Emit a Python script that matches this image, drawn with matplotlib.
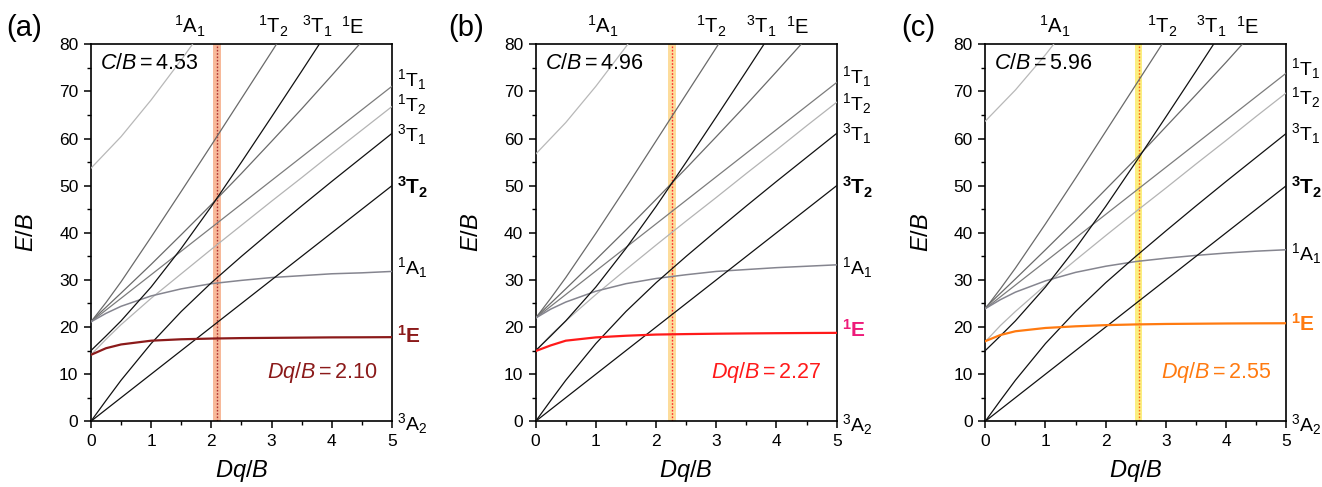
import matplotlib
matplotlib.use("Agg")
import matplotlib.pyplot as plt
from matplotlib.ticker import MultipleLocator

plt.rcParams['font.family'] = ['Liberation Sans', 'DejaVu Sans']
plt.rcParams['mathtext.fontset'] = 'custom'
plt.rcParams['mathtext.rm'] = 'Liberation Sans'
plt.rcParams['mathtext.it'] = 'Liberation Sans:italic'
plt.rcParams['mathtext.bf'] = 'Liberation Sans:bold'

# sampling positions (Dq/B) used when reading the curves
X_FINE = [0, 0.25, 0.5, 1, 1.5, 2, 2.5, 3, 3.5, 4, 4.5, 5]
X_HALF = [0, 0.5, 1, 1.5, 2, 2.5, 3, 3.5, 4, 4.5]
X_STEEP = [0, 0.25, 0.5, 1, 1.5, 2, 2.5, 3, 3.5]
X_S = [0, 0.5, 1, 1.5, 2]
X_ENDS = [0, 5]

# triplets, same in all three panels
T2_3 = [0, 50]
T1F_3 = [0, 4.4, 8.7, 16.5, 23.3, 29.4, 35.0, 40.4, 45.7, 50.9, 56.0, 61.1]
T1P_3 = [15.0, 18.1, 21.3, 28.5, 36.7, 45.6, 55.0, 64.6, 74.3, 84.1, 94.0, 103.9]

# panel (a)  C/B = 4.53
E1_A = [14.1, 15.5, 16.3, 17.1, 17.4, 17.55, 17.65, 17.7, 17.75, 17.8, 17.82, 17.85]
A1_A = [21.1, 22.9, 24.4, 26.6, 28.1, 29.2, 29.9, 30.5, 30.9, 31.3, 31.5, 31.8]
T2D_A = [14.1, 17.4, 20.5, 26.1, 31.3, 36.5, 41.6, 46.7, 51.7, 56.8, 61.8, 66.8]
T2G_A = [21.1, 25.2, 29.6, 39.1, 48.8, 58.6, 68.5, 78.4, 88.4]
T1_A = [21.1, 71.1]
S_A = [53.7, 60.4, 68.2, 76.7, 85.6]
EG_A = [21.2, 27.2, 33.3, 39.6, 46.0, 52.6, 59.4, 66.3, 73.4, 80.6]

# panel (b)  C/B = 4.96
E1_B = [14.9, 16.1, 17.1, 17.8, 18.15, 18.4, 18.5, 18.58, 18.64, 18.69, 18.73, 18.76]
A1_B = [21.9, 23.8, 25.3, 27.6, 29.2, 30.3, 31.1, 31.8, 32.2, 32.6, 32.9, 33.2]
T2D_B = [14.9, 18.3, 21.3, 26.9, 32.2, 37.4, 42.5, 47.5, 52.6, 57.6, 62.7, 67.7]
T2G_B = [21.9, 26.1, 30.5, 39.9, 49.6, 59.5, 69.4, 79.3, 89.3]
T1_B = [21.9, 71.9]
S_B = [56.7, 63.4, 71.1, 79.5, 88.3]
EG_B = [22.0, 28.1, 34.3, 40.6, 47.1, 53.7, 60.4, 67.2, 74.2, 81.3]

# panel (c)  C/B = 5.96
E1_C = [17.0, 18.3, 19.1, 19.8, 20.15, 20.4, 20.55, 20.65, 20.7, 20.75, 20.78, 20.8]
A1_C = [23.9, 25.8, 27.4, 29.8, 31.6, 32.9, 33.9, 34.6, 35.2, 35.7, 36.1, 36.4]
T2D_C = [16.9, 20.3, 23.3, 28.9, 34.2, 39.4, 44.5, 49.5, 54.6, 59.6, 64.7, 69.7]
T2G_C = [23.9, 28.1, 32.5, 41.9, 51.6, 61.5, 71.4, 81.3, 91.2]
T1_C = [23.9, 73.9]
S_C = [63.7, 70.3, 77.8, 86.0, 94.5]
EG_C = [24.1, 30.2, 36.4, 42.7, 49.2, 55.7, 62.5, 69.3, 76.2, 83.3]

CB_VALUES = ["4.53", "4.96", "5.96"]
DQ_VALUES = [2.10, 2.27, 2.55]
DQ_LABELS = ["2.10", "2.27", "2.55"]
PANEL_TAGS = ["(a)", "(b)", "(c)"]

TOP_LABELS = [r"$^{1}$A$_{1}$", r"$^{1}$T$_{2}$", r"$^{3}$T$_{1}$", r"$^{1}$E"]
TOP_X = [[1.645, 3.03, 3.75, 4.35], [1.12, 2.92, 3.75, 4.35], [1.16, 2.93, 3.76, 4.36]]
RIGHT_LABELS = [r"$^{1}$T$_{1}$", r"$^{1}$T$_{2}$", r"$^{3}$T$_{1}$",
                r"$\mathbf{^{3}T_{2}}$", r"$^{1}$A$_{1}$", r"$\mathbf{^{1}E}$",
                r"$^{3}$A$_{2}$"]
RIGHT_Y = [[72.6, 67.3, 60.9, 49.6, 32.7, 18.1, -0.5],
           [73.1, 67.4, 61.0, 49.7, 32.7, 19.3, -0.8],
           [74.8, 68.8, 61.0, 49.7, 35.5, 20.7, -0.6]]

panels = [
    dict(e1=E1_A, a1=A1_A, t2d=T2D_A, t2g=T2G_A, t1=T1_A, s=S_A, eg=EG_A,
         line="#8b1a1a", label="#8b1a1a", text="#8b1a1a",
         band="#f6ad88", dots="#b03030", pos=[0.0688, 0.135, 0.2277, 0.774]),
    dict(e1=E1_B, a1=A1_B, t2d=T2D_B, t2g=T2G_B, t1=T1_B, s=S_B, eg=EG_B,
         line="#ff1a1a", label="#ee1b7a", text="#ff1a1a",
         band="#fdd68a", dots="#ff2a2a", pos=[0.4052, 0.135, 0.2277, 0.774]),
    dict(e1=E1_C, a1=A1_C, t2d=T2D_C, t2g=T2G_C, t1=T1_C, s=S_C, eg=EG_C,
         line="#ff7a10", label="#ff7a10", text="#ff7a10",
         band="#fbeb6a", dots="#ff6a10", pos=[0.7453, 0.135, 0.2277, 0.774]),
]

fig = plt.figure(figsize=(13.22, 4.87), dpi=100)

for i, p in enumerate(panels):
    ax = fig.add_axes(p["pos"])
    dq = DQ_VALUES[i]

    ax.axvspan(dq - 0.065, dq + 0.06, color=p["band"], alpha=0.85, lw=0, zorder=1)
    ax.axvline(dq, color=p["dots"], lw=1.0, ls=(0, (1.2, 1.2)), zorder=2)

    ax.plot(X_S, p["s"], color="#b8b8b8", lw=0.9, zorder=3)
    ax.plot(X_STEEP, p["t2g"], color="#6a6a6a", lw=0.9, zorder=3)
    ax.plot(X_HALF, p["eg"], color="#6a6a6a", lw=0.9, zorder=3)
    ax.plot(X_ENDS, p["t1"], color="#7c7c7c", lw=0.9, zorder=3)
    ax.plot(X_FINE, p["t2d"], color="#b4b4b4", lw=0.9, zorder=3)
    ax.plot(X_FINE, p["a1"], color="#85858f", lw=1.1, zorder=3)
    ax.plot(X_ENDS, T2_3, color="#111111", lw=0.9, zorder=4)
    ax.plot(X_FINE, T1F_3, color="#111111", lw=0.9, zorder=4)
    ax.plot(X_FINE, T1P_3, color="#111111", lw=0.9, zorder=4)
    ax.plot(X_FINE, p["e1"], color=p["line"], lw=1.6, zorder=5)

    ax.set_xlim(0, 5)
    ax.set_ylim(0, 80)
    ax.xaxis.set_major_locator(MultipleLocator(1))
    ax.xaxis.set_minor_locator(MultipleLocator(0.5))
    ax.yaxis.set_major_locator(MultipleLocator(10))
    ax.yaxis.set_minor_locator(MultipleLocator(5))
    ax.tick_params(which="major", direction="out", length=5, width=1.1,
                   labelsize=12.5, pad=4)
    ax.tick_params(which="minor", direction="out", length=3, width=1.0)
    for sp in ax.spines.values():
        sp.set_linewidth(1.2)

    ax.set_xlabel(r"$\mathit{Dq/B}$", fontsize=17, labelpad=7)
    ax.set_ylabel(r"$\mathit{E/B}$", fontsize=17, labelpad=15)

    ax.text(0.15, 76, r"$\mathit{C/B}=\mathrm{%s}$" % CB_VALUES[i],
            fontsize=15.5, va="center", ha="left")
    ax.text(2.92, 10.3, r"$\mathit{Dq/B}=\mathrm{%s}$" % DQ_LABELS[i],
            fontsize=15.5, va="center", ha="left", color=p["text"])

    for lab, x in zip(TOP_LABELS, TOP_X[i]):
        ax.text(x, 83.8, lab, fontsize=14.5, ha="center", va="center",
                clip_on=False)
    for k, (lab, y) in enumerate(zip(RIGHT_LABELS, RIGHT_Y[i])):
        col = p["label"] if k == 5 else "black"
        ax.text(5.08, y, lab, fontsize=15 if k in (3, 5) else 14,
                ha="left", va="center", color=col, clip_on=False)

fig.text(0.005, 0.943, PANEL_TAGS[0], fontsize=21, va="center", ha="left")
fig.text(0.339, 0.943, PANEL_TAGS[1], fontsize=21, va="center", ha="left")
fig.text(0.682, 0.943, PANEL_TAGS[2], fontsize=21, va="center", ha="left")

fig.savefig("out.png", dpi=100)
